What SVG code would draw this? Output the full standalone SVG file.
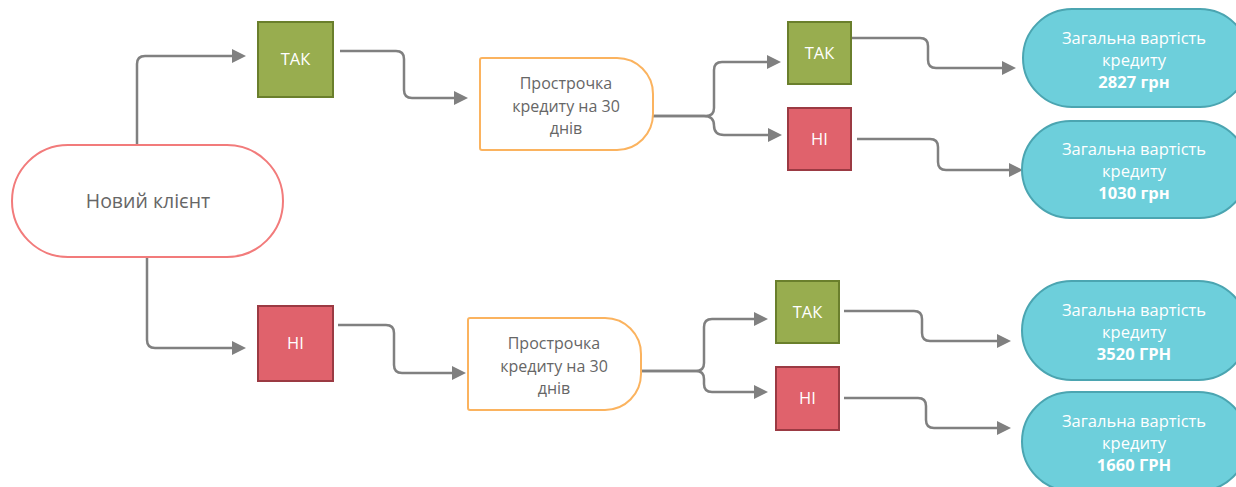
<svg xmlns="http://www.w3.org/2000/svg" width="1236" height="487" viewBox="0 0 1236 487">
  <style>
    .conn { fill: none; stroke: #808080; stroke-width: 2.5; marker-end: url(#arrow); }
    .start { fill: #ffffff; stroke: #f27b7b; stroke-width: 2; }
    .proc { fill: #ffffff; stroke: #fbb35f; stroke-width: 2; }
    .yes { fill: #98ad4f; stroke: #6a7f2c; stroke-width: 2; }
    .no { fill: #e0626c; stroke: #9b3a43; stroke-width: 2; }
    .cost { fill: #6dcfdb; stroke: #4ba5b1; stroke-width: 2; }
    text { font-family: "Open Sans", "Noto Sans", "Liberation Sans", sans-serif; text-anchor: middle; }
    .dark { fill: #666666; font-size: 16px; }
    .big { font-size: 19.5px; }
    .light { fill: #ffffff; font-size: 16.5px; }
    .bold { font-weight: bold; }
  </style>
  <defs>
    <marker id="arrow" markerUnits="userSpaceOnUse" viewBox="0 0 14 14" markerWidth="14" markerHeight="14" refX="8" refY="7" orient="auto">
      <path d="M0,0 L14,7 L0,14 Z" fill="#808080"/>
    </marker>
  </defs>

  <!-- connectors -->
  <g id="connectors">
    <path class="conn" d="M137,145 V64 Q137,56 145,56 H240"/>
    <path class="conn" d="M147,257 V340 Q147,348 155,348 H240"/>
    <path class="conn" d="M340,51 H396 Q404,51 404,59 V90 Q404,98 412,98 H462"/>
    <path class="conn" d="M338,325 H386 Q394,325 394,333 V365 Q394,373 402,373 H460"/>
    <path class="conn" d="M653,116 H706 Q714,116 714,108 V70 Q714,62 722,62 H775"/>
    <path class="conn" d="M653,116 H704 Q714,116 714,125.5 Q714,135 724,135 H776"/>
    <path class="conn" d="M641,371 H696 Q704,371 704,363 V327 Q704,319 712,319 H762"/>
    <path class="conn" d="M641,371 H696 Q704,371 704,379 V384 Q704,392 712,392 H762"/>
    <path class="conn" d="M852,38 H920 Q928,38 928,46 V60 Q928,68 936,68 H1010"/>
    <path class="conn" d="M857,139 H930 Q938,139 938,147 V162 Q938,170 946,170 H1017"/>
    <path class="conn" d="M844,311 H914 Q922,311 922,319 V333 Q922,341 930,341 H1005"/>
    <path class="conn" d="M844,398 H918 Q926,398 926,406 V420 Q926,428 934,428 H1005"/>
  </g>

  <!-- start -->
  <g id="new-client">
    <rect class="start" x="12" y="145" width="271" height="112" rx="56" ry="56"/>
    <text class="dark big" x="148" y="208">Новий клієнт</text>
  </g>

  <!-- first-level answers -->
  <g id="yes-1">
    <rect class="yes" x="258" y="22" width="75" height="75"/>
    <text class="light" x="295.5" y="65">ТАК</text>
  </g>
  <g id="no-1">
    <rect class="no" x="258" y="306" width="75" height="75"/>
    <text class="light" x="295.5" y="349">НІ</text>
  </g>

  <!-- overdue questions -->
  <g id="overdue-1">
    <path class="proc" d="M482,58 H617 A36,36 0 0 1 653,94 V114 A36,36 0 0 1 617,150 H482 Q480,150 480,148 V60 Q480,58 482,58 Z"/>
    <text class="dark" x="566" y="89">Прострочка</text>
    <text class="dark" x="566" y="112">кредиту на 30</text>
    <text class="dark" x="566" y="134">днів</text>
  </g>
  <g id="overdue-2">
    <path class="proc" d="M470,318 H605 A36,36 0 0 1 641,354 V374 A36,36 0 0 1 605,410 H470 Q468,410 468,408 V320 Q468,318 470,318 Z"/>
    <text class="dark" x="554" y="349">Прострочка</text>
    <text class="dark" x="554" y="372">кредиту на 30</text>
    <text class="dark" x="554" y="394">днів</text>
  </g>

  <!-- second-level answers -->
  <g id="yes-2">
    <rect class="yes" x="788" y="22" width="63" height="62"/>
    <text class="light" x="819.5" y="59">ТАК</text>
  </g>
  <g id="no-2">
    <rect class="no" x="788" y="108" width="63" height="62"/>
    <text class="light" x="819.5" y="145">НІ</text>
  </g>
  <g id="yes-3">
    <rect class="yes" x="776" y="281" width="63" height="62"/>
    <text class="light" x="807.5" y="318">ТАК</text>
  </g>
  <g id="no-3">
    <rect class="no" x="776" y="367" width="63" height="63"/>
    <text class="light" x="807.5" y="404">НІ</text>
  </g>

  <!-- total costs -->
  <g id="cost-2827">
    <rect class="cost" x="1023" y="9" width="226" height="98" rx="49" ry="49"/>
    <text class="light" x="1134" y="44">Загальна вартість</text>
    <text class="light" x="1134" y="66">кредиту</text>
    <text class="light bold" x="1134" y="88">2827 грн</text>
  </g>
  <g id="cost-1030">
    <rect class="cost" x="1022" y="121" width="226" height="97" rx="48.5" ry="48.5"/>
    <text class="light" x="1134" y="155">Загальна вартість</text>
    <text class="light" x="1134" y="177">кредиту</text>
    <text class="light bold" x="1134" y="199">1030 грн</text>
  </g>
  <g id="cost-3520">
    <rect class="cost" x="1022" y="281" width="226" height="99" rx="49.5" ry="49.5"/>
    <text class="light" x="1134" y="316">Загальна вартість</text>
    <text class="light" x="1134" y="338">кредиту</text>
    <text class="light bold" x="1134" y="360">3520 ГРН</text>
  </g>
  <g id="cost-1660">
    <rect class="cost" x="1022" y="392" width="226" height="99" rx="49.5" ry="49.5"/>
    <text class="light" x="1134" y="427">Загальна вартість</text>
    <text class="light" x="1134" y="449">кредиту</text>
    <text class="light bold" x="1134" y="471">1660 ГРН</text>
  </g>
</svg>
